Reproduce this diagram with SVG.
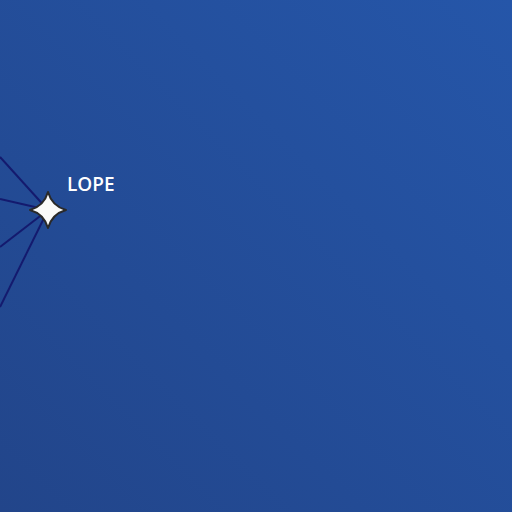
<svg xmlns="http://www.w3.org/2000/svg" width="512" height="512" viewBox="0 0 512 512">
<defs>
<linearGradient id="bg" x1="0" y1="1" x2="1" y2="0">
<stop offset="0" stop-color="#22458a"/>
<stop offset="1" stop-color="#2556a9"/>
</linearGradient>
<style>
.edge{stroke:#141a6e;stroke-width:2;fill:none}
.star{fill:#fafafa;stroke:#2a2a2a;stroke-width:2;stroke-linejoin:round}
.lbl{font-family:"Open Sans","Noto Sans",sans-serif;font-weight:600;font-size:19px;fill:#ffffff}
</style>
</defs>
<rect width="512" height="512" fill="url(#bg)"/>
<g id="connectors">
<line class="edge" x1="0" y1="157" x2="48" y2="210"/>
<line class="edge" x1="0" y1="199" x2="48" y2="210"/>
<line class="edge" x1="0" y1="247" x2="48" y2="210"/>
<line class="edge" x1="0" y1="307" x2="48" y2="210"/>
</g>
<g id="lope">
<path class="star" d="M48,192 Q52,206 66,210 Q52,214 48,228 Q44,214 30,210 Q44,206 48,192 Z"/>
<text class="lbl" x="67" y="191">LOPE</text>
</g>
</svg>
